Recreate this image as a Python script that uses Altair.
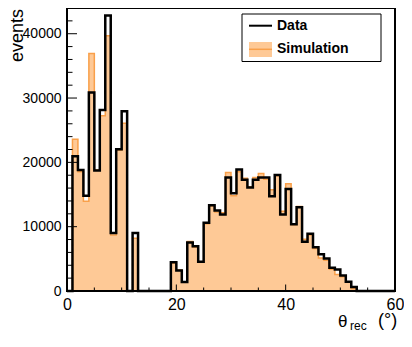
import altair as alt
import pandas as pd

# ---- data ----
bin_edges = list(range(0, 61))  # 1-degree bins, 0..60
data_counts = [
    0, 20970, 18820, 14820, 30870, 18720, 28150, 42820, 9030, 22050,
    27950, 0, 9030, 0, 0, 0, 0, 0, 0, 4460,
    3180, 1380, 7540, 6970, 4560, 10600, 13330, 12500, 11900, 17640,
    15200, 18900, 17280, 16100, 17280, 17640, 17640, 14720, 18050, 11900,
    15850, 10360, 13030, 7640, 8920, 6800, 5700, 5050, 3600, 3350,
    2410, 1450, 615, 0, 0, 0, 0, 0, 0, 0,
]
sim_counts = [
    0, 23590, 18550, 13950, 36920, 18800, 27230, 39700, 8720, 21900,
    26100, 0, 8200, 0, 0, 0, 0, 0, 0, 4300,
    3250, 1380, 7690, 6800, 4500, 10460, 13200, 12300, 12150, 18410,
    14820, 18560, 17540, 16200, 17640, 18260, 17380, 15740, 17900, 12410,
    16670, 10300, 13130, 8050, 8700, 6600, 5130, 4800, 3400, 2560,
    2200, 1400, 350, 0, 0, 0, 0, 0, 0, 0,
]
x_major = [0, 20, 40, 60]
x_minor = [5, 10, 15, 25, 30, 35, 45, 50, 55]
y_major = [0, 10000, 20000, 30000, 40000]
y_minor = [v for v in range(2000, 44001, 2000) if v % 10000]

W, H = 328, 283
YMAX = 44000
FILL = "#fec996"
ORANGE = "#f9a04a"
FONT = "Liberation Sans"

hist = pd.DataFrame({"x": bin_edges, "data": data_counts + [0], "sim": sim_counts + [0]})

xs = alt.Scale(domain=[0, 60], nice=False, zero=False)
ys = alt.Scale(domain=[0, YMAX], nice=False)

x_axis = alt.Axis(values=x_major, title=None, grid=False, domain=False, ticks=False,
                  labelFontSize=16, labelFont=FONT, labelColor="black", labelPadding=5,
                  labelOverlap=False, labelFlush=False, labelBaseline="top")
y_axis = alt.Axis(values=y_major, title=None, grid=False, domain=False, ticks=False,
                  labelFontSize=14, labelFont=FONT, labelColor="black", labelPadding=6,
                  labelOverlap=False, labelFlush=False, format="d")

X = lambda f: alt.X(f, scale=xs, axis=x_axis)
Y = lambda f: alt.Y(f, scale=ys, axis=y_axis)

base = alt.Chart(hist)
area = base.mark_area(interpolate="step-after", color=FILL).encode(x=X("x:Q"), y=Y("sim:Q"))
sim_line = base.mark_line(interpolate="step-after", color=ORANGE, strokeWidth=1.5).encode(x=X("x:Q"), y=Y("sim:Q"))
data_line = base.mark_line(interpolate="step-after", color="black", strokeWidth=2.5).encode(x=X("x:Q"), y=Y("data:Q"))

def yticks(vals, length):
    return alt.Chart(pd.DataFrame({"v": vals})).mark_rule(color="black", strokeWidth=1).encode(
        y=Y("v:Q"), x=alt.value(0), x2=alt.value(length))

def xticks(vals, length):
    return alt.Chart(pd.DataFrame({"v": vals})).mark_rule(color="black", strokeWidth=1).encode(
        x=X("v:Q"), y=alt.value(H), y2=alt.value(H - length))

one = pd.DataFrame({"k": [0]})
frame = alt.Chart(one).mark_rect(filled=False, stroke="black", strokeWidth=2).encode(
    x=alt.value(0), x2=alt.value(W), y=alt.value(0), y2=alt.value(H))

def txt(text, x, y, size, **kw):
    return alt.Chart(one).mark_text(text=text, font=FONT, fontSize=size, color="black", **kw).encode(
        x=alt.value(x), y=alt.value(y))

ytitle = txt("events", -44, 1, 18, angle=270, align="right", baseline="alphabetic")
xt1 = txt("θ", 271, 318.5, 17, align="left", baseline="alphabetic")
xt2 = txt("rec", 283, 321.5, 12, align="left", baseline="alphabetic")
xt3 = txt("(°)", 311, 318, 18, align="left", baseline="alphabetic")

# legend
leg_box = alt.Chart(one).mark_rect(fill="white", stroke="black", strokeWidth=1).encode(
    x=alt.value(175), x2=alt.value(314), y=alt.value(6), y2=alt.value(53.5))
leg_data = alt.Chart(one).mark_rule(color="black", strokeWidth=2).encode(
    x=alt.value(182), x2=alt.value(205), y=alt.value(17.7))
leg_simbox = alt.Chart(one).mark_rect(fill=FILL).encode(
    x=alt.value(182), x2=alt.value(205), y=alt.value(34), y2=alt.value(49))
leg_simline = alt.Chart(one).mark_rule(color=ORANGE, strokeWidth=1.5).encode(
    x=alt.value(182), x2=alt.value(205), y=alt.value(41.3))
leg_t1 = txt("Data", 210, 17.7, 14, align="left", baseline="middle", fontWeight="bold")
leg_t2 = txt("Simulation", 210, 41.3, 14, align="left", baseline="middle", fontWeight="bold")

chart = alt.layer(
    area, sim_line,
    yticks(y_major, 10), yticks(y_minor, 5.5), xticks(x_major, 6.5), xticks(x_minor, 3.5),
    data_line, frame,
    leg_box, leg_data, leg_simbox, leg_simline, leg_t1, leg_t2,
    ytitle, xt1, xt2, xt3,
).properties(
    width=W, height=H,
    autosize=alt.AutoSizeParams(type="none"),
    padding={"left": 59, "top": 0, "right": 9, "bottom": 43},
).configure_view(stroke=None)

chart.save("out.html", embed_options={"renderer": "svg", "actions": False})
